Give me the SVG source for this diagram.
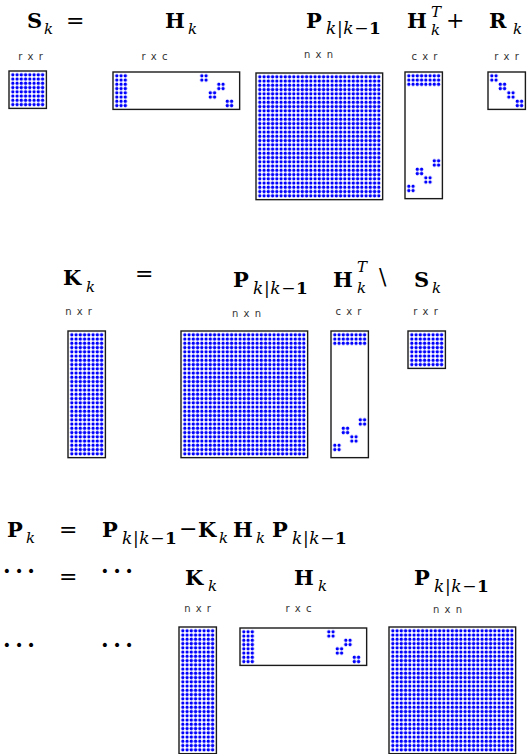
<svg xmlns="http://www.w3.org/2000/svg" width="527" height="754" viewBox="0 0 527 754">
<style>
.m{font-family:"DejaVu Serif",serif;font-weight:bold;font-size:21px;fill:#000}
.s{font-family:"DejaVu Serif",serif;font-style:italic;font-size:15px;fill:#000}
.c{font-size:17px;letter-spacing:0.6px}
.u{font-style:normal;font-weight:normal}
.b{font-style:normal;font-weight:bold}
.o{font-family:"DejaVu Serif",serif;font-size:22px;fill:#000}
.dd{font-family:"DejaVu Serif",serif;font-size:22px;font-weight:bold;fill:#000}
.lab{font-family:"DejaVu Sans",sans-serif;font-size:10px;letter-spacing:1px;fill:#333;text-anchor:middle}
.box{fill:#fff;stroke:#1a1a1a;stroke-width:1.4}
.dt{fill:url(#d)}
</style>
<defs>
<pattern id="d" width="4.25" height="4.25" patternUnits="userSpaceOnUse"><circle cx="2.125" cy="2.125" r="1.65" fill="#0000ff"/></pattern>
</defs>

<!-- Row 1 text -->
<g id="eq1">
<text class="m" x="27" y="28">S</text><text class="s" x="44" y="34">k</text>
<text class="o" x="66" y="28">=</text>
<text class="m" x="165" y="28">H</text><text class="s" x="188" y="34">k</text>
<text class="m" x="306" y="28">P</text><text class="s c" x="326" y="34">k<tspan class="u">|</tspan>k<tspan class="u">−</tspan><tspan class="b">1</tspan></text>
<text class="m" x="407" y="28">H</text><text class="s" x="431" y="16.5" font-size="12">T</text><text class="s" x="431" y="34.5">k</text>
<text class="o" x="446" y="28">+</text>
<text class="m" x="489" y="28">R</text><text class="s" x="513" y="34">k</text>
</g>
<g id="labels1">
<text class="lab" x="31" y="60">r x r</text>
<text class="lab" x="155" y="60">r x c</text>
<text class="lab" x="319" y="58">n x n</text>
<text class="lab" x="425" y="60">c x r</text>
<text class="lab" x="507" y="60">r x r</text>
</g>

<g id="S1" transform="translate(10.7,72.7)"><rect class="box" x="-1.7" y="-1.7" width="37.4" height="37.4"/><rect class="dt" x="0" y="0" width="34" height="34"/></g>
<g id="H1" transform="translate(114.7,73.7)"><rect class="box" x="-1.7" y="-1.7" width="126.65" height="37.4"/><rect class="dt" x="0" y="0" width="12.75" height="34"/><rect class="dt" x="85" y="0" width="8.5" height="8.5"/><rect class="dt" x="102" y="8.5" width="8.5" height="8.5"/><rect class="dt" x="93.5" y="17" width="8.5" height="8.5"/><rect class="dt" x="110.5" y="25.5" width="8.5" height="8.5"/></g>
<g id="P1" transform="translate(257.7,74.7)"><rect class="box" x="-1.7" y="-1.7" width="126.65" height="126.65"/><rect class="dt" x="0" y="0" width="123.25" height="123.25"/></g>
<g id="HT1" transform="translate(406.7,73.7)"><rect class="box" x="-1.7" y="-1.7" width="37.4" height="126.65"/><rect class="dt" x="0" y="0" width="34" height="12.75"/><rect class="dt" x="25.5" y="85" width="8.5" height="8.5"/><rect class="dt" x="8.5" y="93.5" width="8.5" height="8.5"/><rect class="dt" x="17" y="102" width="8.5" height="8.5"/><rect class="dt" x="0" y="110.5" width="8.5" height="8.5"/></g>
<g id="R1" transform="translate(489.7,73.7)"><rect class="box" x="-1.7" y="-1.7" width="37.4" height="37.4"/><rect class="dt" x="0" y="0" width="8.5" height="8.5"/><rect class="dt" x="8.5" y="8.5" width="8.5" height="8.5"/><rect class="dt" x="17" y="17" width="8.5" height="8.5"/><rect class="dt" x="25.5" y="25.5" width="8.5" height="8.5"/></g>

<!-- Row 2 -->
<g id="eq2">
<text class="m" x="63" y="285">K</text><text class="s" x="86" y="292">k</text>
<text class="o" x="135" y="281">=</text>
<text class="m" x="233" y="287">P</text><text class="s c" x="253" y="294">k<tspan class="u">|</tspan>k<tspan class="u">−</tspan><tspan class="b">1</tspan></text>
<text class="m" x="333" y="287">H</text><text class="s" x="357" y="272" font-size="12">T</text><text class="s" x="357" y="293">k</text>
<text class="o" x="379" y="284">\</text>
<text class="m" x="414" y="287">S</text><text class="s" x="432" y="293">k</text>
</g>
<g id="labels2">
<text class="lab" x="79" y="315">n x r</text>
<text class="lab" x="247" y="317">n x n</text>
<text class="lab" x="349" y="315">c x r</text>
<text class="lab" x="426" y="315">r x r</text>
</g>
<g id="K2" transform="translate(69.7,332.7)"><rect class="box" x="-1.7" y="-1.7" width="37.4" height="126.65"/><rect class="dt" x="0" y="0" width="34" height="123.25"/></g>
<g id="P2" transform="translate(182.7,332.7)"><rect class="box" x="-1.7" y="-1.7" width="126.65" height="126.65"/><rect class="dt" x="0" y="0" width="123.25" height="123.25"/></g>
<g id="HT2" transform="translate(332.7,332.7)"><rect class="box" x="-1.7" y="-1.7" width="37.4" height="126.65"/><rect class="dt" x="0" y="0" width="34" height="12.75"/><rect class="dt" x="25.5" y="85" width="8.5" height="8.5"/><rect class="dt" x="8.5" y="93.5" width="8.5" height="8.5"/><rect class="dt" x="17" y="102" width="8.5" height="8.5"/><rect class="dt" x="0" y="110.5" width="8.5" height="8.5"/></g>
<g id="S2" transform="translate(409.7,332.7)"><rect class="box" x="-1.7" y="-1.7" width="37.4" height="37.4"/><rect class="dt" x="0" y="0" width="34" height="34"/></g>

<!-- Row 3 -->
<g id="eq3">
<text class="m" x="7" y="537">P</text><text class="s" x="26" y="543">k</text>
<text class="o" x="59" y="537">=</text>
<text class="m" x="102" y="537">P</text><text class="s c" x="122" y="544">k<tspan class="u">|</tspan>k<tspan class="u">−</tspan><tspan class="b">1</tspan></text>
<text class="o" x="179" y="536" font-size="16">−</text>
<text class="m" x="198" y="537">K</text><text class="s" x="219" y="543">k</text>
<text class="m" x="233" y="537">H</text><text class="s" x="256" y="543">k</text>
<text class="m" x="272" y="537">P</text><text class="s c" x="292" y="544">k<tspan class="u">|</tspan>k<tspan class="u">−</tspan><tspan class="b">1</tspan></text>
</g>
<g id="eq4">
<text class="dd" x="3" y="579" textLength="32" lengthAdjust="spacing">···</text>
<text class="o" x="59" y="584">=</text>
<text class="dd" x="101" y="579" textLength="32" lengthAdjust="spacing">···</text>
<text class="m" x="185" y="585">K</text><text class="s" x="208" y="591">k</text>
<text class="m" x="294" y="585">H</text><text class="s" x="318" y="591">k</text>
<text class="m" x="414" y="585">P</text><text class="s c" x="434" y="592">k<tspan class="u">|</tspan>k<tspan class="u">−</tspan><tspan class="b">1</tspan></text>
<text class="dd" x="3" y="653" textLength="32" lengthAdjust="spacing">···</text>
<text class="dd" x="101" y="653" textLength="32" lengthAdjust="spacing">···</text>
</g>
<g id="labels3">
<text class="lab" x="198" y="612">n x r</text>
<text class="lab" x="299" y="612">r x c</text>
<text class="lab" x="448" y="613">n x n</text>
</g>
<g id="K3" transform="translate(180.7,628.7)"><rect class="box" x="-1.7" y="-1.7" width="37.4" height="126.65"/><rect class="dt" x="0" y="0" width="34" height="123.25"/></g>
<g id="H3" transform="translate(241.7,629.7)"><rect class="box" x="-1.7" y="-1.7" width="126.65" height="37.4"/><rect class="dt" x="0" y="0" width="12.75" height="34"/><rect class="dt" x="85" y="0" width="8.5" height="8.5"/><rect class="dt" x="102" y="8.5" width="8.5" height="8.5"/><rect class="dt" x="93.5" y="17" width="8.5" height="8.5"/><rect class="dt" x="110.5" y="25.5" width="8.5" height="8.5"/></g>
<g id="P3" transform="translate(390.7,628.7)"><rect class="box" x="-1.7" y="-1.7" width="126.65" height="126.65"/><rect class="dt" x="0" y="0" width="123.25" height="123.25"/></g>
</svg>
